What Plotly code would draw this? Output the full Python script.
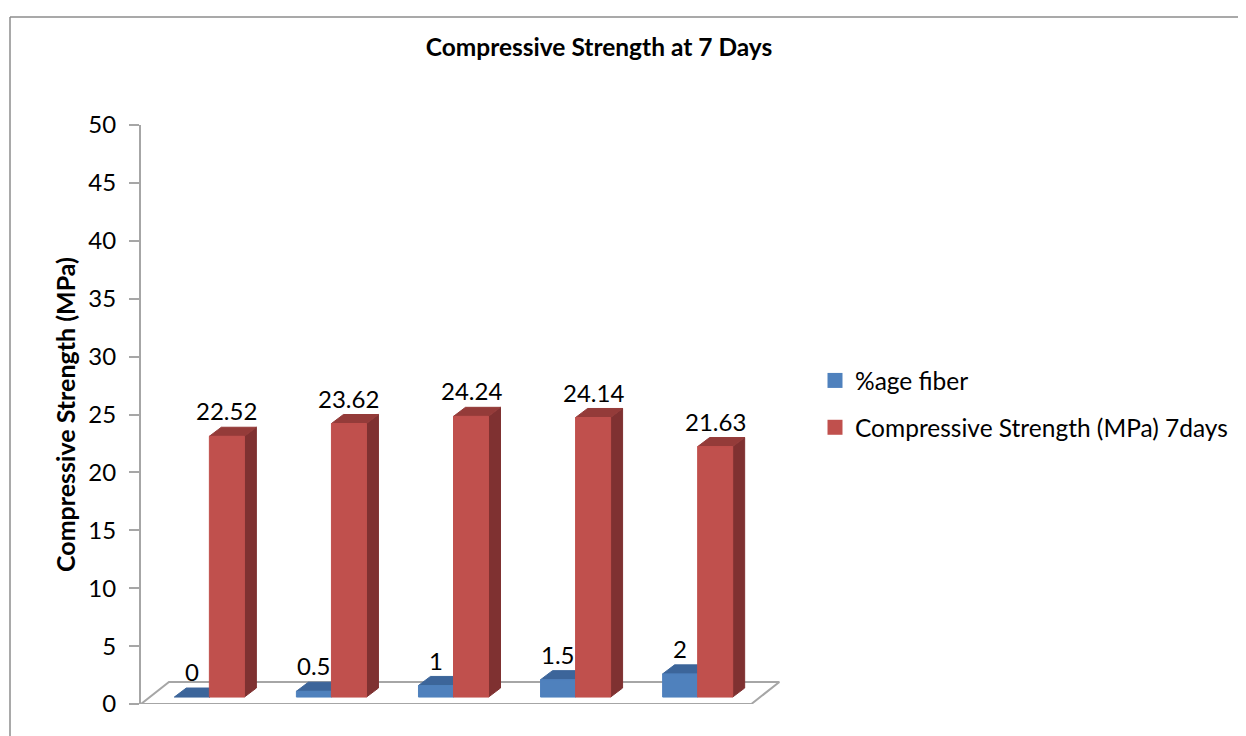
import plotly.graph_objects as go

# ---- data ----
categories = ["0", "0.5", "1", "1.5", "2"]
fiber = [0, 0.5, 1, 1.5, 2]
strength = [22.52, 23.62, 24.24, 24.14, 21.63]
series_names = ["%age fiber", "Compressive Strength (MPa) 7days"]
y_ticks = [0, 5, 10, 15, 20, 25, 30, 35, 40, 45, 50]

# ---- style / geometry (3D look) ----
W, H = 1246, 736
OFF = 8                       # page body margin compensation
L_PX, T_PX, B_PX = 141 - OFF, 125 - OFF, 704 - OFF
PW = 647
X_RANGE = [-0.5, 4.8]
BAR_W = 0.287          # bar width in category units
FX, FY = 0.06, 0.6     # bar front-plane offset from floor front
DX, DY = 0.098, 0.78   # bar depth
FLX, FLY = 0.229, 1.9  # floor depth

BLUE = dict(front="#4F81BD", top="#3C659A", side="#385D8A")
RED = dict(front="#C0504D", top="#943B39", side="#7F3131")
FONT = "Lato, Carlito, Calibri, sans-serif"

fig = go.Figure()

def poly(xs, ys, color, line=None):
    fig.add_trace(go.Scatter(
        x=list(xs) + [xs[0]], y=list(ys) + [ys[0]], mode="lines",
        fill="toself", fillcolor=color,
        line=dict(color=line if line else color, width=1 if line is None else 2),
        hoverinfo="skip", showlegend=False))

# floor
n = len(categories)
fx0, fx1 = -0.5, n - 0.5
poly([fx0, fx1, fx1 + FLX, fx0 + FLX], [0, 0, FLY, FLY], "white", line="#A6A6A6")

def bar3d(left, value, col):
    x0 = left + FX
    x1 = x0 + BAR_W
    y0 = FY
    y1 = FY + value
    poly([x1, x1 + DX, x1 + DX, x1], [y0, y0 + DY, y1 + DY, y1], col["side"])
    poly([x0, x1, x1 + DX, x0 + DX], [y1, y1, y1 + DY, y1 + DY], col["top"])
    if value > 0:
        poly([x0, x1, x1, x0], [y0, y0, y1, y1], col["front"])

annotations = []
for i in range(n):
    bar3d(i - BAR_W, fiber[i], BLUE)
    bar3d(i, strength[i], RED)
    for left, v in ((i - BAR_W, fiber[i]), (i, strength[i])):
        annotations.append(dict(
            x=left + FX + BAR_W / 2, y=v + 2.8, xref="x", yref="y",
            text=f"{v:g}", showarrow=False,
            font=dict(family=FONT, size=24, color="black")))

# legend entries
for name, col in zip(series_names, [BLUE, RED]):
    fig.add_trace(go.Scatter(
        x=[None], y=[None], mode="markers", name=name, legendgroup=name,
        marker=dict(symbol="square", size=15, color=col["front"])))

PH = B_PX - T_PX
def px_x(p):
    return (p - OFF - L_PX) / PW
def px_y(p):
    return (B_PX - (p - OFF)) / PH

annotations.append(dict(
    x=px_x(65), y=px_y(415), xref="paper", yref="paper",
    xanchor="center", yanchor="middle",
    text="<b>Compressive Strength (MPa)</b>", textangle=-90, showarrow=False,
    font=dict(family=FONT, size=25, color="black")))

shapes = [
    dict(type="line", xref="paper", yref="paper",
         x0=px_x(10), x1=px_x(1270), y0=px_y(17), y1=px_y(17),
         line=dict(color="#8C8C8C", width=1.5)),
    dict(type="line", xref="paper", yref="paper",
         x0=px_x(10), x1=px_x(10), y0=px_y(17), y1=px_y(760),
         line=dict(color="#8C8C8C", width=1.5)),
]

fig.update_layout(
    width=W, height=H, autosize=False,
    margin=dict(l=L_PX, r=W - L_PX - PW, t=T_PX, b=H - B_PX),
    paper_bgcolor="white", plot_bgcolor="rgba(0,0,0,0)",
    title=dict(text="<b>Compressive Strength at 7 Days</b>",
               x=(599 - OFF) / W, y=1 - (47 - OFF) / H, xanchor="center", yanchor="middle",
               font=dict(family=FONT, size=24.5, color="black")),
    xaxis=dict(range=X_RANGE, visible=False, fixedrange=True),
    yaxis=dict(range=[0, 50], tickvals=y_ticks, ticks="outside", ticklen=10,
               tickcolor="#A6A6A6", tickwidth=2, showline=True,
               linecolor="#A6A6A6", linewidth=2, showgrid=False,
               zeroline=False, tickfont=dict(family=FONT, size=24, color="black"),
               ticklabelstandoff=8, fixedrange=True),
    legend=dict(x=px_x(815), y=px_y(358), xanchor="left", yanchor="top",
                font=dict(family=FONT, size=24.5, color="black"),
                tracegroupgap=12, bgcolor="rgba(0,0,0,0)"),
    annotations=annotations, shapes=shapes, showlegend=True,
)

fig.write_html("out.html")
